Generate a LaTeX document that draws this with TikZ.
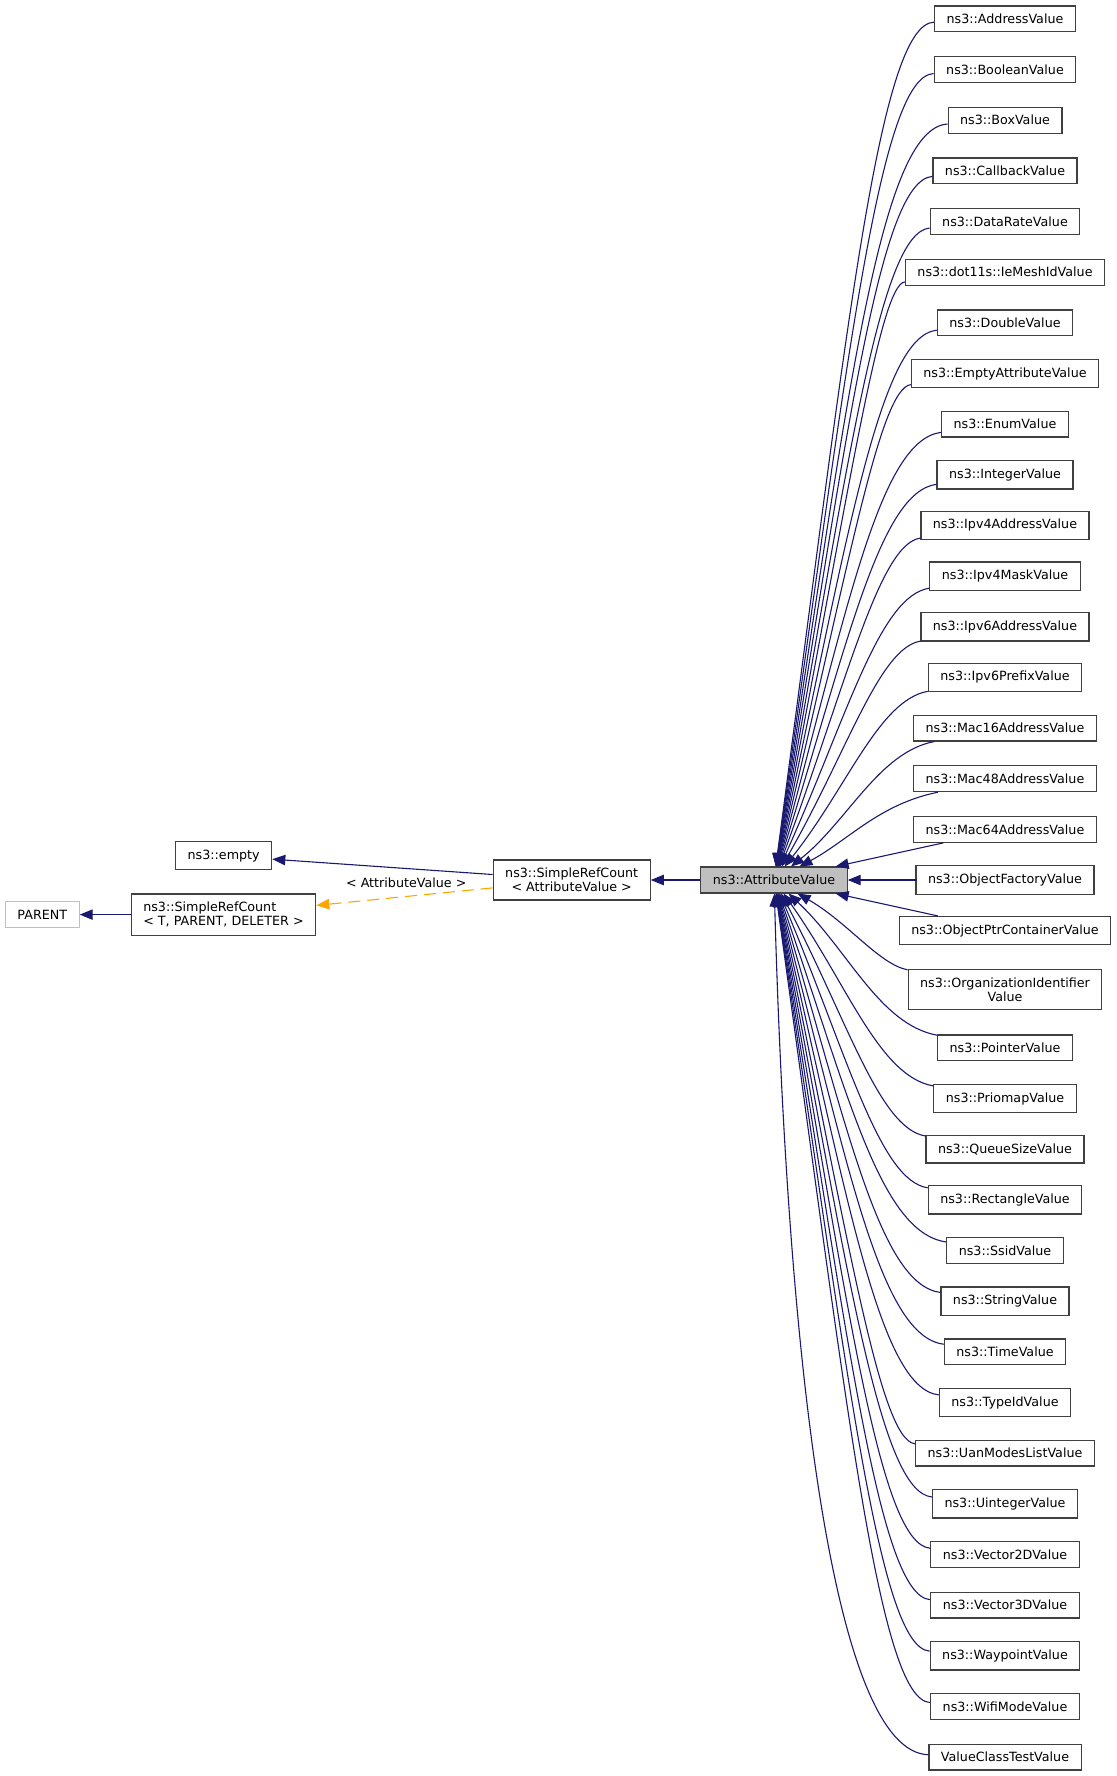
\documentclass[tikz,border=0pt]{standalone}
\usepackage{fontspec}
\setmainfont{DejaVu Sans}
\usetikzlibrary{arrows.meta,positioning}
\definecolor{edgeblue}{HTML}{191970}
\definecolor{tmplorange}{HTML}{FFA500}
\definecolor{boxgray}{HTML}{BFBFBF}
\definecolor{boxline}{HTML}{404040}
\tikzset{%
	cls/.style     = {draw=boxline, line width=0.6pt, rectangle, minimum height=12.8pt, inner xsep=6pt, inner ysep=4pt, align=center, font=\fontsize{6.35}{7}\selectfont}, % Class
	hidden/.style  = {cls, draw=boxgray}, % Undocumented
	current/.style = {cls, fill=boxgray}, % This class
	arrow/.style   = {draw=edgeblue, line width=0.55pt, -{Triangle[length=6.5pt,width=5.2pt]}},
	tmpl/.style    = {arrow, draw=tmplorange, dash pattern=on 6pt off 3.5pt},
}
\begin{document}
\begin{tikzpicture}[x=0.5pt, y=-0.5pt]
	\useasboundingbox (0,0) rectangle (1117,1776);
	\node[hidden] (parent) at (42.3,914.6) {PARENT};
	\node[cls,align=left] (srct) at (223.5,914.6) {ns3::SimpleRefCount\\< T, PARENT, DELETER >};
	\node[cls] (empty) at (223.7,855.8) {ns3::empty};
	\node[cls] (srcav) at (571.7,880) {ns3::SimpleRefCount\\< AttributeValue >};
	\node[current] (av) at (774,880) {ns3::AttributeValue};
	\draw[arrow] (srct) -- (parent);
	\draw[arrow] (srcav) -- (empty);
	\draw[tmpl] (srcav) -- node[pos=0.49,above=1pt,font=\fontsize{6.35}{7}\selectfont] {< AttributeValue >} (srct);
	\draw[arrow] (av) -- (srcav);
	% derived classes
	\foreach \lbl [count=\i from 0] in {ns3::AddressValue, ns3::BooleanValue, ns3::BoxValue, ns3::CallbackValue, ns3::DataRateValue, ns3::dot11s::IeMeshIdValue, ns3::DoubleValue, ns3::EmptyAttributeValue, ns3::EnumValue, ns3::IntegerValue, ns3::Ipv4AddressValue, ns3::Ipv4MaskValue, ns3::Ipv6AddressValue, ns3::Ipv6PrefixValue, ns3::Mac16AddressValue, ns3::Mac48AddressValue, ns3::Mac64AddressValue, ns3::ObjectFactoryValue, ns3::ObjectPtrContainerValue, {ns3::OrganizationIdentifier\\Value}, ns3::PointerValue, ns3::PriomapValue, ns3::QueueSizeValue, ns3::RectangleValue, ns3::SsidValue, ns3::StringValue, ns3::TimeValue, ns3::TypeIdValue, ns3::UanModesListValue, ns3::UintegerValue, ns3::Vector2DValue, ns3::Vector3DValue, ns3::WaypointValue, ns3::WifiModeValue, ValueClassTestValue} {
		\pgfmathsetmacro\yy{880+(\i-17)*50.65+8*(\i>18)+8*(\i>19)}
		\node[cls] (v\i) at (1005,\yy) {\lbl};
		\pgfmathsetmacro\sg{\yy<880 ? 1 : -1}
		\pgfmathsetmacro\dst{abs(880-\yy)}
		\pgfmathsetmacro\rad{min(70,0.45*\dst)}
		\pgfmathsetmacro\offs{max(5,28-0.026*\dst)}
		\pgfmathsetmacro\ax{\dst<60 ? 851 : (\i==34 ? 788 : 847.5)}
		\pgfmathsetmacro\ay{\dst<60 ? 880+(\yy-880)/3 : (\i==34 ? 1380 : 880-\sg*0.7*(\dst-\rad))}
		\pgfmathsetmacro\bx{\dst<60 ? 928 : (\i==34 ? 835 : 879)}
		\pgfmathsetmacro\by{\dst<60 ? 880+2*(\yy-880)/3 : \yy+\sg*\offs}
		\draw[arrow] (v\i) .. controls (\bx,\by) and (\ax,\ay) .. (av);
	}
\end{tikzpicture}
\end{document}
